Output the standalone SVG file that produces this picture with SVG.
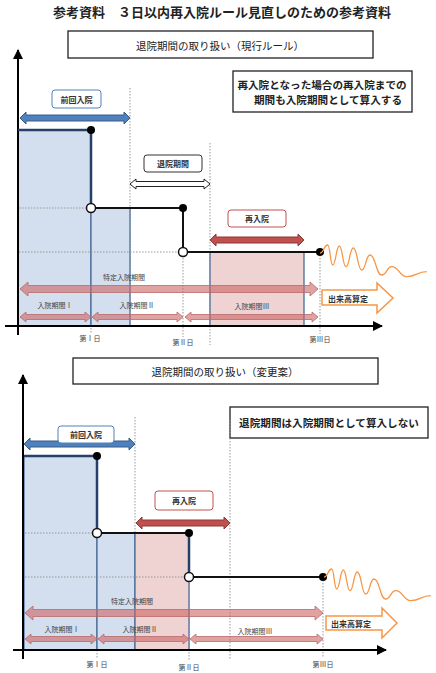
<svg xmlns="http://www.w3.org/2000/svg" width="436" height="673" viewBox="0 0 436 673">
<defs>
<style>
text{font-family:"Noto Sans CJK JP","Noto Sans",sans-serif;fill:#222}
.title{font-size:13px;font-weight:bold;text-anchor:middle;dominant-baseline:central}
.hd{font-size:10.5px;text-anchor:middle;dominant-baseline:central}
.note{font-size:10.6px;font-weight:bold;text-anchor:middle;dominant-baseline:central}
.lbl{font-size:8px;font-weight:bold;text-anchor:middle;dominant-baseline:central;fill:#333}
.sm{font-size:7px;text-anchor:middle;dominant-baseline:central;fill:#444}
.box{fill:#fff;stroke:#222;stroke-width:1.3}
.bl{fill:#fff;stroke:#4f81bd;stroke-width:1;rx:3}
.gy{fill:#fff;stroke:#333;stroke-width:1;rx:3}
.rd{fill:#fff;stroke:#c0504d;stroke-width:1;rx:3}
.axis{stroke:#000;stroke-width:2;fill:none}
.dot{stroke:#999;stroke-width:1;stroke-dasharray:1.5 1.5;fill:none}
.rb{fill:#d3deee;stroke:#4a6d9a;stroke-width:1.3}
.rp{fill:#efd2d2;stroke:#4a6d9a;stroke-width:1.3}
.stepb{stroke:#24406b;stroke-width:2.5;fill:none}
.stepk{stroke:#111;stroke-width:2;fill:none}
.bd{fill:#000}
.oc{fill:#fff;stroke:#111;stroke-width:1.5}
.ab{fill:#4f81bd;stroke:#385d8a;stroke-width:1}
.aw{fill:#fff;stroke:#222;stroke-width:1}
.ar{fill:#c0504d;stroke:#8c3836;stroke-width:1}
.ap{fill:rgb(205,100,100);fill-opacity:0.6;stroke:#b86a6a;stroke-width:0.8}
.wave{fill:none;stroke:#f79646;stroke-width:1.3}
.oa{fill:#fff;stroke:#f79646;stroke-width:1.5}
.ot{font-size:8px;font-weight:bold;dominant-baseline:central;fill:#333}
</style>
<marker id="ah" viewBox="0 0 10 10" refX="9" refY="5" markerWidth="5" markerHeight="5" orient="auto"><path d="M0,0 L10,5 L0,10 z" fill="#000"/></marker>
</defs>
<rect width="436" height="673" fill="#fff"/>
<text class="title" x="222" y="11">参考資料　３日以内再入院ルール見直しのための参考資料</text>

<!-- ===== TOP DIAGRAM ===== -->
<g id="top-header"><rect class="box" x="68" y="31" width="305" height="27"/><text class="hd" x="220" y="45">退院期間の取り扱い（現行ルール）</text></g>
<g id="top-note"><rect class="box" x="233" y="71" width="179" height="41"/><text class="note" x="322" y="84">再入院となった場合の再入院までの</text><text class="note" x="328" y="99.5">期間も入院期間として算入する</text></g>

<g id="top-guides">
<line class="dot" x1="130" y1="88" x2="130" y2="326"/>
<line class="dot" x1="210" y1="143" x2="210" y2="345"/>
<line class="dot" x1="91" y1="208" x2="91" y2="334"/>
<line class="dot" x1="183" y1="252" x2="183" y2="337"/>
<line class="dot" x1="320" y1="252" x2="320" y2="334"/>
</g>
<g id="top-prev-stay"><rect class="rb" x="18" y="130" width="73" height="196"/><rect class="rb" x="91" y="208" width="39" height="118"/></g>
<g id="top-readmit-stay"><rect class="rp" x="210" y="252" width="94" height="74"/></g>
<g id="top-hdots">
<line class="dot" x1="19" y1="208" x2="91" y2="208"/>
<line class="dot" x1="19" y1="252" x2="183" y2="252"/>
</g>
<g id="top-axes">
<line class="axis" x1="18" y1="335" x2="18" y2="50" marker-end="url(#ah)"/>
<line class="axis" x1="5" y1="326" x2="382" y2="326" marker-end="url(#ah)" stroke-width="1.5"/>
</g>
<g id="top-step">
<path class="stepb" d="M18,130 H91 V204"/>
<path class="stepk" d="M95,208 H183 V248"/>
<path class="stepk" d="M187,252 H320"/>
<circle class="bd" cx="91" cy="130" r="4"/>
<circle class="oc" cx="91" cy="208" r="4.5"/>
<circle class="bd" cx="183" cy="208" r="4"/>
<circle class="oc" cx="183" cy="252" r="4.5"/>
<circle class="bd" cx="320" cy="252" r="4"/>
</g>
<path class="wave" d="M320,253 C323.9,253 323.9,245 327.7,245 C330.2,245 330.2,265 332.7,265 C336,265 336,246 339.3,246 C342.6,246 342.6,266.7 346,266.7 C349.6,266.7 349.6,248 353.3,248 C357.5,248 357.5,270 361.7,270 C365.8,270 365.8,255 370,255 C375.8,255 375.8,275 381.7,275 C386.7,275 386.7,266.7 391.7,266.7 C399.2,266.7 399.2,276.7 406.7,276.7 C416.7,276.7 416.7,271.7 426.7,271.7"/>

<g id="top-connectors">
<polygon class="ab" points="20,118 26,112 26,115 124,115 124,112 130,118 124,124 124,121 26,121 26,124"/>
<polygon class="aw" points="130,184 136,179 136,181.5 204,181.5 204,179 210,184 204,189 204,186.5 136,186.5 136,189"/>
<polygon class="ar" points="210,240 216,234 216,237 298,237 298,234 304,240 298,246 298,243 216,243 216,246"/>
<polygon class="ap" points="20,289 28,282 28,285.5 310,285.5 310,282 318,289 310,296 310,292.5 28,292.5 28,296"/>
<polygon class="ap" points="20,317 26,312 26,314.5 85,314.5 85,312 91,317 85,322 85,319.5 26,319.5 26,322"/>
<polygon class="ap" points="92,317 98,312 98,314.5 177,314.5 177,312 183,317 177,322 177,319.5 98,319.5 98,322"/>
<polygon class="ap" points="185,317 191,312 191,314.5 312,314.5 312,312 318,317 312,322 312,319.5 191,319.5 191,322"/>
</g>
<g id="top-prev-label"><rect class="bl" x="52" y="90" width="49" height="18"/><text class="lbl" x="76.5" y="99">前回入院</text></g>
<g id="top-discharge-label"><rect class="gy" x="144" y="155" width="58" height="17"/><text class="lbl" x="173" y="163.5">退院期間</text></g>
<g id="top-readmit-label"><rect class="rd" x="228" y="210" width="58" height="17"/><text class="lbl" x="257" y="218.5">再入院</text></g>
<g id="top-texts">
<text class="sm" x="124" y="277" font-size="7.5">特定入院期間</text>
<text class="sm" x="55" y="305">入院期間Ⅰ</text>
<text class="sm" x="137" y="305">入院期間Ⅱ</text>
<text class="sm" x="252" y="306">入院期間Ⅲ</text>
<text class="sm" x="90" y="338">第Ⅰ日</text>
<text class="sm" x="183" y="342">第Ⅱ日</text>
<text class="sm" x="320" y="339">第Ⅲ日</text>
</g>
<g id="top-fee"><polygon class="oa" points="322,290 377,290 377,283 393,298 377,313 377,305 322,305"/><text class="ot" x="328" y="298">出来高算定</text></g>

<!-- ===== BOTTOM DIAGRAM ===== -->
<g id="bot-header"><rect class="box" x="73" y="358" width="305" height="26"/><text class="hd" x="225" y="371">退院期間の取り扱い（変更案）</text></g>
<g id="bot-note"><rect class="box" x="230" y="407" width="198" height="31"/><text class="note" x="329" y="422.5">退院期間は入院期間として算入しない</text></g>

<g id="bot-guides">
<line class="dot" x1="135" y1="417" x2="135" y2="533"/>
<line class="dot" x1="230" y1="420" x2="230" y2="660"/>
<line class="dot" x1="97" y1="533" x2="97" y2="658"/>
<line class="dot" x1="189" y1="577" x2="189" y2="660"/>
<line class="dot" x1="323" y1="577" x2="323" y2="658"/>
</g>
<g id="bot-prev-stay"><rect class="rb" x="24" y="456" width="73" height="194"/><rect class="rb" x="97" y="533" width="38" height="117"/></g>
<g id="bot-readmit-stay"><rect class="rp" x="135" y="533" width="54" height="117"/></g>
<g id="bot-hdots">
<line class="dot" x1="25" y1="533" x2="97" y2="533"/>
<line class="dot" x1="25" y1="577" x2="189" y2="577"/>
</g>
<g id="bot-axes">
<line class="axis" x1="23" y1="659" x2="23" y2="375" marker-end="url(#ah)"/>
<line class="axis" x1="13" y1="650" x2="386" y2="650" marker-end="url(#ah)" stroke-width="1.5"/>
</g>
<g id="bot-step">
<path class="stepb" d="M24,456 H97 V529"/>
<path class="stepk" d="M101,533 H189"/>
<path class="stepb" d="M189,533 V573"/>
<path class="stepk" d="M193,577 H323"/>
<circle class="bd" cx="97" cy="456" r="4"/>
<circle class="oc" cx="97" cy="533" r="4.5"/>
<circle class="bd" cx="189" cy="533" r="4"/>
<circle class="oc" cx="189" cy="577" r="4.5"/>
<circle class="bd" cx="323" cy="577" r="4"/>
</g>
<path class="wave" transform="translate(4,324)" d="M320,253 C323.9,253 323.9,245 327.7,245 C330.2,245 330.2,265 332.7,265 C336,265 336,246 339.3,246 C342.6,246 342.6,266.7 346,266.7 C349.6,266.7 349.6,248 353.3,248 C357.5,248 357.5,270 361.7,270 C365.8,270 365.8,255 370,255 C375.8,255 375.8,275 381.7,275 C386.7,275 386.7,266.7 391.7,266.7 C399.2,266.7 399.2,276.7 406.7,276.7 C416.7,276.7 416.7,271.7 426.7,271.7"/>

<g id="bot-connectors">
<polygon class="ab" points="24,444 30,438 30,441 129,441 129,438 135,444 129,450 129,447 30,447 30,450"/>
<polygon class="ar" points="136,523 142,517 142,520 224,520 224,517 230,523 224,529 224,526 142,526 142,529"/>
<polygon class="ap" points="25,613 33,606 33,609.5 315,609.5 315,606 323,613 315,620 315,616.5 33,616.5 33,620"/>
<polygon class="ap" points="25,639 31,634 31,636.5 91,636.5 91,634 97,639 91,644 91,641.5 31,641.5 31,644"/>
<polygon class="ap" points="98,639 104,634 104,636.5 183,636.5 183,634 189,639 183,644 183,641.5 104,641.5 104,644"/>
<polygon class="ap" points="190,639 196,634 196,636.5 317,636.5 317,634 323,639 317,644 317,641.5 196,641.5 196,644"/>
</g>
<g id="bot-prev-label"><rect class="bl" x="58" y="426" width="56" height="17"/><text class="lbl" x="86" y="434.5">前回入院</text></g>
<g id="bot-readmit-label"><rect class="rd" x="155" y="491" width="58" height="19"/><text class="lbl" x="184" y="500.5">再入院</text></g>
<g id="bot-texts">
<text class="sm" x="132" y="601" font-size="7.5">特定入院期間</text>
<text class="sm" x="62" y="629">入院期間Ⅰ</text>
<text class="sm" x="140" y="629">入院期間Ⅱ</text>
<text class="sm" x="255" y="631">入院期間Ⅲ</text>
<text class="sm" x="97" y="664">第Ⅰ日</text>
<text class="sm" x="189" y="667">第Ⅱ日</text>
<text class="sm" x="323" y="664">第Ⅲ日</text>
</g>
<g id="bot-fee"><polygon class="oa" points="326,616 382,616 382,608 397,623 382,638 382,630 326,630"/><text class="ot" x="331" y="623">出来高算定</text></g>
</svg>
